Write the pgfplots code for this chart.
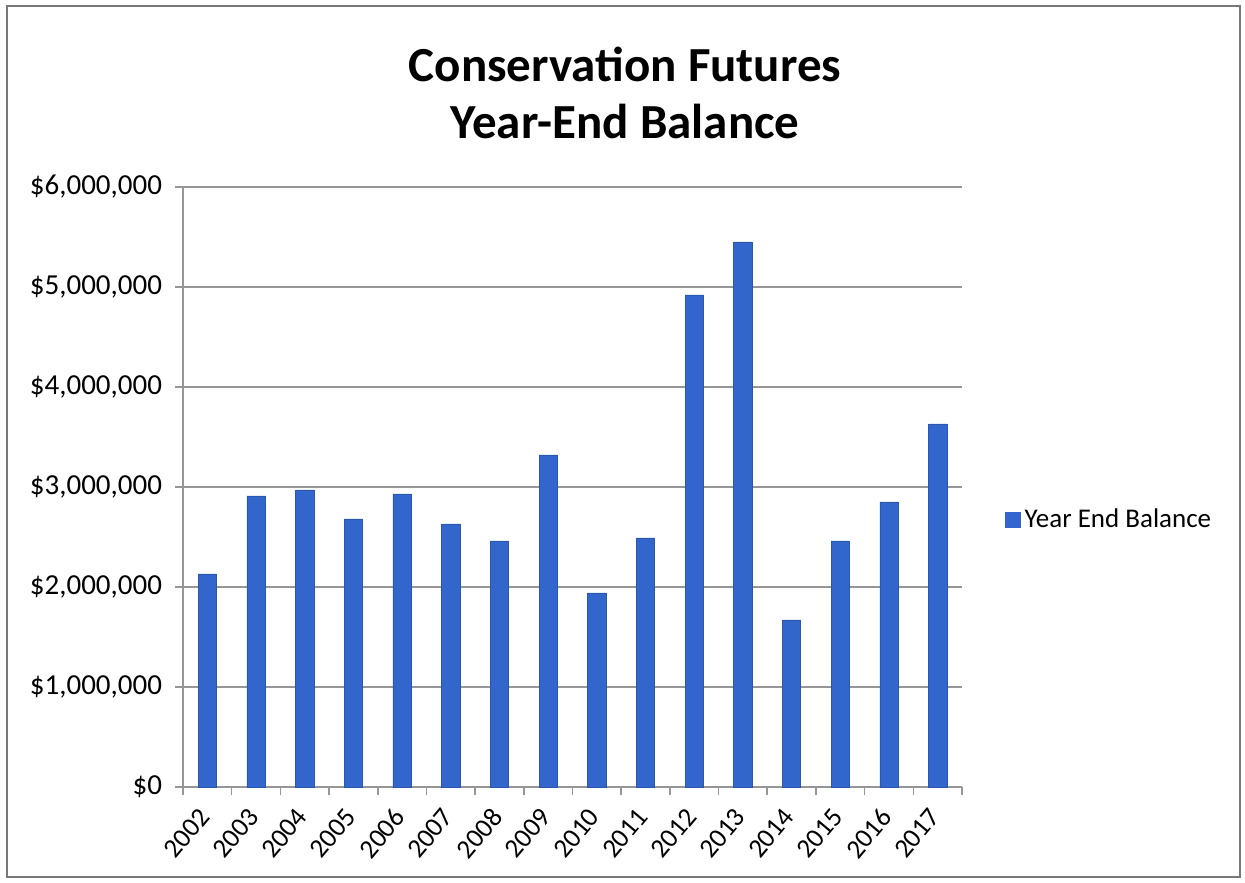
\documentclass[border=0pt]{standalone}
\usepackage{pgfplots}
\pgfplotsset{compat=1.18}
\usepackage{fontspec}
\setmainfont{Carlito}
\definecolor{barblue}{RGB}{51,102,204}
\definecolor{gridgray}{RGB}{150,150,150}
\definecolor{framegray}{RGB}{120,120,120}
\begin{document}
\begin{tikzpicture}[x=0.5pt,y=0.5pt]
  % canvas and outer chart frame
  \fill[white] (0,0) rectangle (1245,882);
  \draw[framegray,line width=1.2pt] (7,5) rectangle (1240,876);
  % chart title
  \node[font=\bfseries\fontsize{24.5}{28.5}\selectfont,align=center] at (625,789)
    {Conservation Futures\\Year-End Balance};
  \begin{axis}[
    at={(91.5pt,47.5pt)}, anchor=origin,
    scale only axis, width=389.5pt, height=300pt,
    xmin=2001.5, xmax=2017.5, ymin=0, ymax=6000000,
    axis x line*=bottom, axis y line*=left,
    axis line style={gridgray, line width=0.8pt},
    ymajorgrids, grid style={gridgray, line width=0.7pt},
    scaled y ticks=false,
    ytick={0,1000000,2000000,3000000,4000000,5000000,6000000},
    yticklabels={{\$0},{\$1,000,000},{\$2,000,000},{\$3,000,000},{\$4,000,000},{\$5,000,000},{\$6,000,000}},
    xtick={2002,...,2017},
    xticklabels={2002,2003,2004,2005,2006,2007,2008,2009,2010,2011,2012,2013,2014,2015,2016,2017},
    minor xtick={2001.5,2002.5,...,2017.5},
    major x tick style={draw=none},
    minor x tick style={gridgray, line width=0.8pt},
    y tick style={gridgray, line width=0.8pt},
    tick align=outside, major tick length=4pt, minor tick length=4pt,
    /pgf/number format/assume math mode=true,
    yticklabel style={font=\fontsize{14.5}{16}\selectfont, xshift=-3pt},
    xticklabel style={font=\fontsize{13.5}{15}\selectfont, rotate=50, anchor=north east, xshift=-4pt, yshift=3.5pt},
    ybar, bar width=0.376, bar shift=0pt,
    legend style={at={(1.055,0.445)}, anchor=west, draw=none, fill=none,
      font=\fontsize{13.5}{15}\selectfont, inner sep=0pt},
    legend image code/.code={\fill[barblue] (0cm,-0.13cm) rectangle (0.26cm,0.13cm);},
  ]
    \addplot[fill=barblue, draw=barblue!85!black, line width=0.3pt] coordinates {
      (2002,2130000) (2003,2910000) (2004,2970000) (2005,2680000)
      (2006,2930000) (2007,2630000) (2008,2460000) (2009,3320000)
      (2010,1940000) (2011,2490000) (2012,4920000) (2013,5450000)
      (2014,1670000) (2015,2460000) (2016,2850000) (2017,3630000)
    };
    \addlegendentry{Year End Balance}
  \end{axis}
\end{tikzpicture}
\end{document}
